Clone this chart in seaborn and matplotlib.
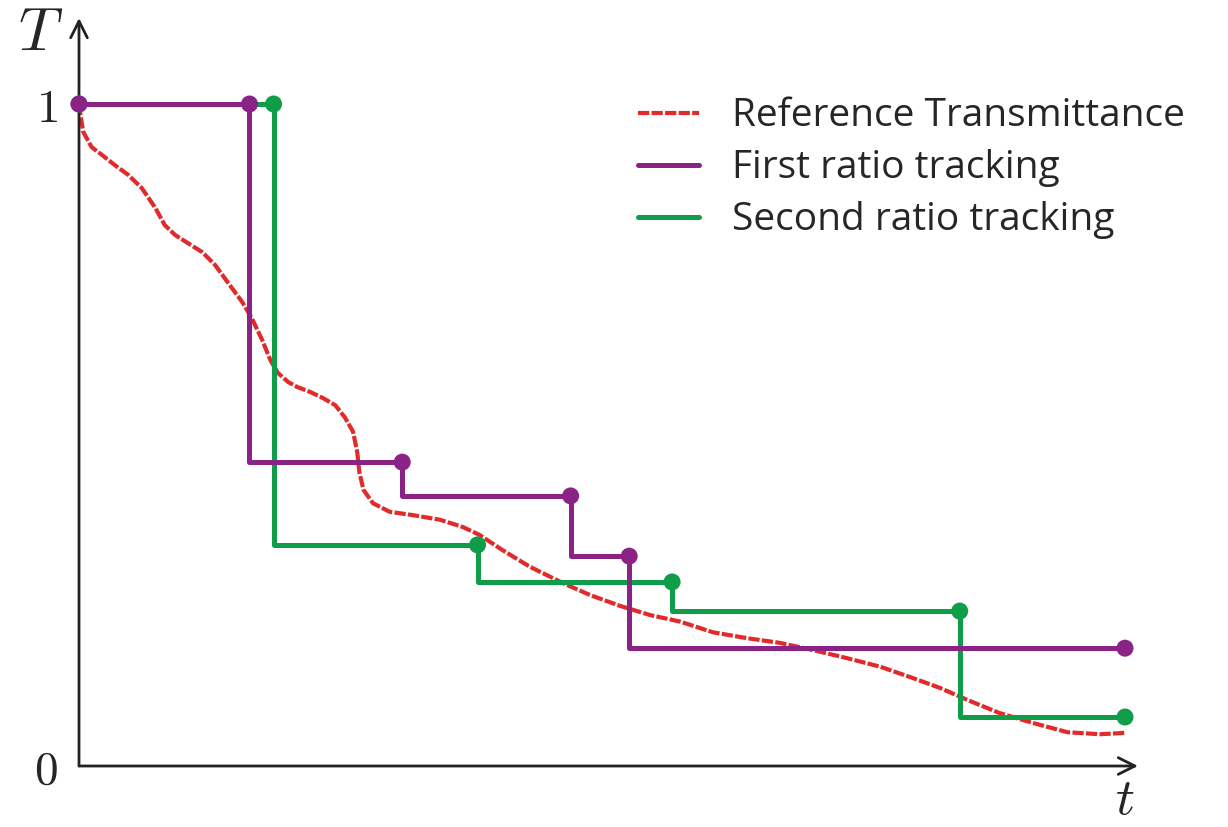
import numpy as np
import pandas as pd
import seaborn as sns
import matplotlib.pyplot as plt
from matplotlib.lines import Line2D

# reference transmittance curve
ref_t = [0.000, 0.001, 0.004, 0.012, 0.022, 0.034, 0.047, 0.060, 0.073, 0.082, 0.092, 0.104,
         0.118, 0.130, 0.142, 0.156, 0.165, 0.175, 0.183, 0.190, 0.200, 0.208, 0.221, 0.233,
         0.245, 0.254, 0.262, 0.266, 0.268, 0.272, 0.281, 0.297, 0.319, 0.345, 0.367, 0.383,
         0.405, 0.431, 0.463, 0.489, 0.517, 0.546, 0.575, 0.606, 0.639, 0.670, 0.702, 0.734,
         0.766, 0.797, 0.823, 0.849, 0.880, 0.912, 0.945, 0.976, 1.000]
ref_T = [1.000, 0.988, 0.958, 0.935, 0.923, 0.908, 0.893, 0.873, 0.843, 0.817, 0.802, 0.790,
         0.776, 0.757, 0.731, 0.701, 0.677, 0.644, 0.613, 0.594, 0.580, 0.573, 0.565, 0.556,
         0.545, 0.527, 0.505, 0.474, 0.444, 0.417, 0.397, 0.384, 0.379, 0.372, 0.361, 0.349,
         0.326, 0.301, 0.276, 0.258, 0.242, 0.228, 0.218, 0.202, 0.193, 0.186, 0.175, 0.163,
         0.150, 0.133, 0.118, 0.100, 0.080, 0.065, 0.051, 0.048, 0.050]

# first ratio tracking: breakpoints and level after each breakpoint
first_t = [0, 0.163, 0.309, 0.470, 0.526, 1.0]
first_T = [1.0, 0.459, 0.408, 0.317, 0.178, 0.178]

# second ratio tracking
second_t = [0, 0.186, 0.381, 0.567, 0.842, 1.0]
second_T = [1.0, 0.334, 0.278, 0.234, 0.074, 0.074]

red = '#E32A2A'
purple = '#8B2387'
green = '#0F9D4A'
red_dash = (2.7, 0.55)

sns.set_style("white")
plt.rcParams['mathtext.fontset'] = 'cm'
plt.rcParams['font.family'] = ['Open Sans', 'DejaVu Sans']

fig = plt.figure(figsize=(12.28, 8.27), dpi=100)
ax = fig.add_axes([79 / 1228, 1 - 766 / 827, (1138 - 79) / 1228, (766 - 18) / 827])

# reference curve
sns.lineplot(x=ref_t, y=ref_T, ax=ax, color=red, lw=3.0, estimator=None, sort=False, zorder=2)
ax.lines[-1].set_dashes(red_dash)

# step curves with dots at the top of every drop
for ts, Ts, col, z in [(second_t, second_T, green, 3), (first_t, first_T, purple, 4)]:
    sns.lineplot(x=ts, y=Ts, ax=ax, color=col, lw=3.6, drawstyle='steps-post',
                 estimator=None, sort=False, zorder=z)
    dot_T = [Ts[0]] + Ts[:-1]
    sns.scatterplot(x=ts, y=dot_T, ax=ax, color=col, s=150, edgecolor='none',
                    zorder=z + 0.5, clip_on=False)

ax.set_xlim(0, (1138 - 79) / 1046)
ax.set_ylim(0, (766 - 18) / 662)

# axes as arrows
for s in ['top', 'right', 'left', 'bottom']:
    ax.spines[s].set_visible(False)
arrow = dict(arrowstyle='->', lw=2.0, color='#222222', mutation_scale=30, shrinkA=0, shrinkB=0)
ax.annotate('', xy=(1, 0), xytext=(0, 0), xycoords='axes fraction', arrowprops=arrow)
ax.annotate('', xy=(0, 1), xytext=(0, 0), xycoords='axes fraction', arrowprops=arrow)

ax.set_xticks([])
ax.set_yticks([0, 1])
ax.set_yticklabels([r'$0$', r'$1$'], fontsize=34)
ax.tick_params(axis='y', length=4, width=1.5, pad=11, color='#222222')

fig.text(41 / 1228, 1 - 34 / 827, r'$T$', fontsize=44, ha='center', va='center')
fig.text(1125 / 1228, 1 - 814 / 827, r'$t$', fontsize=38, ha='center', va='baseline')

handles = [Line2D([], [], color=red, lw=3.0, dashes=red_dash),
           Line2D([], [], color=purple, lw=3.6),
           Line2D([], [], color=green, lw=3.6)]
labels = ['Reference Transmittance', 'First ratio tracking', 'Second ratio tracking']
ax.legend(handles, labels, loc='upper left', bbox_to_anchor=(619 / 1228, 1 - 78 / 827),
          bbox_transform=fig.transFigure, frameon=False, fontsize=28,
          handlelength=1.55, handletextpad=0.85, labelspacing=0.36, borderpad=0)

fig.savefig('out.png', dpi=100)
